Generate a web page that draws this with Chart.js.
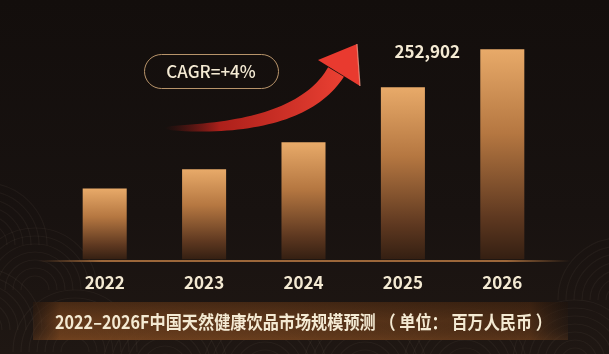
<!DOCTYPE html>
<html>
<head>
<meta charset="utf-8">
<script src="https://cdn.jsdelivr.net/npm/chart.js@4.4.0/dist/chart.umd.min.js"></script>
<style>
html, body { margin: 0; padding: 0; background: #17110e; }
canvas { display: block; }
</style>
</head>
<body>
<canvas id="market_chart" width="609" height="354"></canvas>
<script>
// data (bar heights, 2026 labelled)
const years = ['2022', '2023', '2024', '2025', '2026'];
const marketSize = [85500, 108400, 140900, 207100, 252902];
const valueLabel = '252,902';
const cagrText = 'CAGR=+4%';
const chartTitle = '2022–2026F中国天然健康饮品市场规模预测 （ 单位： 百万人民币 ）';

const FONT = '"Noto Sans CJK SC", "Noto Sans", sans-serif';
const CREAM = '#f4ead3';

// background, wave pattern, title band and base line
const backdrop = {
	id: 'backdrop',
	beforeDraw(chart) {
		const {ctx, width, height} = chart;
		ctx.save();
		const bg = ctx.createLinearGradient(0, 0, 0, height);
		bg.addColorStop(0, '#130e0c');
		bg.addColorStop(0.6, '#181210');
		bg.addColorStop(1, '#1f1713');
		ctx.fillStyle = bg;
		ctx.fillRect(0, 0, width, height);

		ctx.strokeStyle = 'rgba(255, 230, 200, 0.045)';
		ctx.lineWidth = 1.2;
		const waves = [[-15, 245], [35, 290], [-20, 330], [75, 352], [165, 368], [265, 372], [365, 372], [465, 370], [575, 362], [620, 300]];
		waves.forEach(([cx, cy]) => {
			for (let r = 14; r <= 62; r += 8) {
				ctx.beginPath();
				ctx.arc(cx, cy, r, Math.PI, 2 * Math.PI);
				ctx.stroke();
			}
		});

		// title band
		const band = ctx.createLinearGradient(33, 0, 568, 0);
		band.addColorStop(0, 'rgba(90, 50, 22, 0.25)');
		band.addColorStop(0.05, 'rgba(108, 62, 28, 0.9)');
		band.addColorStop(0.45, 'rgba(100, 58, 27, 0.9)');
		band.addColorStop(0.93, 'rgba(82, 47, 22, 0.85)');
		band.addColorStop(1, 'rgba(60, 35, 18, 0.2)');
		ctx.fillStyle = band;
		ctx.fillRect(33, 302, 535, 38);
		const shade = ctx.createLinearGradient(0, 302, 0, 340);
		shade.addColorStop(0, 'rgba(20, 12, 8, 0.35)');
		shade.addColorStop(0.5, 'rgba(20, 12, 8, 0)');
		shade.addColorStop(1, 'rgba(160, 95, 45, 0.18)');
		ctx.fillStyle = shade;
		ctx.fillRect(33, 302, 535, 38);
		ctx.restore();
	},
	afterDatasetsDraw(chart) {
		const {ctx, chartArea} = chart;
		const y = chartArea.bottom + 1.5;
		ctx.save();
		const line = ctx.createLinearGradient(38, 0, 570, 0);
		line.addColorStop(0, 'rgba(170, 110, 60, 0)');
		line.addColorStop(0.12, 'rgba(170, 112, 62, 0.9)');
		line.addColorStop(0.88, 'rgba(170, 112, 62, 0.9)');
		line.addColorStop(1, 'rgba(170, 110, 60, 0)');
		ctx.strokeStyle = line;
		ctx.lineWidth = 2;
		ctx.beginPath();
		ctx.moveTo(38, y);
		ctx.lineTo(570, y);
		ctx.stroke();
		ctx.restore();
	}
};

// CAGR pill, red growth arrow and the value label
const notes = {
	id: 'notes',
	afterDraw(chart) {
		const {ctx} = chart;
		ctx.save();

		// pill
		ctx.strokeStyle = '#b8946a';
		ctx.lineWidth = 1;
		ctx.beginPath();
		ctx.roundRect(144.5, 54.5, 134, 34, 17);
		ctx.stroke();
		ctx.fillStyle = CREAM;
		ctx.font = '500 17px ' + FONT;
		ctx.textAlign = 'center';
		ctx.textBaseline = 'middle';
		ctx.fillText(cagrText, 211, 72);

		// arrow shaft along a quadratic curve
		const p0 = [165, 128], p1 = [300, 131], p2 = [336, 72];
		const upper = [], lower = [];
		const n = 40;
		for (let i = 0; i <= n; i++) {
			const t = i / n;
			const x = (1 - t) * (1 - t) * p0[0] + 2 * (1 - t) * t * p1[0] + t * t * p2[0];
			const yy = (1 - t) * (1 - t) * p0[1] + 2 * (1 - t) * t * p1[1] + t * t * p2[1];
			const dx = 2 * (1 - t) * (p1[0] - p0[0]) + 2 * t * (p2[0] - p1[0]);
			const dy = 2 * (1 - t) * (p1[1] - p0[1]) + 2 * t * (p2[1] - p1[1]);
			const len = Math.hypot(dx, dy);
			const w = (1.5 + 17 * Math.sqrt(t)) / 2;
			upper.push([x + dy / len * w, yy - dx / len * w]);
			lower.push([x - dy / len * w, yy + dx / len * w]);
		}
		const grad = ctx.createLinearGradient(165, 0, 350, 0);
		grad.addColorStop(0, 'rgba(140, 22, 18, 0)');
		grad.addColorStop(0.3, 'rgba(190, 34, 28, 0.9)');
		grad.addColorStop(1, '#ee4234');
		ctx.fillStyle = grad;
		ctx.beginPath();
		ctx.moveTo(upper[0][0], upper[0][1]);
		upper.forEach(p => ctx.lineTo(p[0], p[1]));
		for (let i = lower.length - 1; i >= 0; i--) ctx.lineTo(lower[i][0], lower[i][1]);
		ctx.closePath();
		ctx.fill();

		// arrow head
		ctx.fillStyle = '#e93a2f';
		ctx.beginPath();
		ctx.moveTo(357, 44);
		ctx.lineTo(318, 60);
		ctx.lineTo(360, 86);
		ctx.closePath();
		ctx.fill();
		ctx.strokeStyle = 'rgba(255, 170, 150, 0.7)';
		ctx.lineWidth = 1.2;
		ctx.beginPath();
		ctx.moveTo(357, 44);
		ctx.lineTo(360, 86);
		ctx.stroke();

		// value label beside the 2026 bar
		const last = chart.getDatasetMeta(0).data[years.length - 1];
		ctx.fillStyle = CREAM;
		ctx.font = 'bold 17px ' + FONT;
		ctx.fillText(valueLabel, last.x - 75, last.y + 2);
		ctx.restore();
	}
};

new Chart(document.getElementById('market_chart'), {
	type: 'bar',
	data: {
		labels: years,
		datasets: [{
			label: '市场规模',
			data: marketSize,
			barPercentage: 0.443,
			categoryPercentage: 1,
			backgroundColor: function (c) {
				const chart = c.chart;
				if (!chart.chartArea || c.type !== 'data') return '#c8894f';
				const y = chart.scales.y;
				const top = y.getPixelForValue(c.raw);
				const base = y.getPixelForValue(0);
				const g = chart.ctx.createLinearGradient(0, top, 0, base);
				g.addColorStop(0, '#e8aa69');
				g.addColorStop(0.4, '#b57741');
				g.addColorStop(0.8, '#5e3820');
				g.addColorStop(1, '#341f12');
				return g;
			}
		}]
	},
	options: {
		responsive: false,
		animation: false,
		devicePixelRatio: 1,
		layout: {padding: {top: 10, left: 55, right: 57, bottom: 0}},
		scales: {
			x: {
				grid: {display: false, drawTicks: false},
				border: {display: false},
				ticks: {color: CREAM, padding: 13, font: {family: FONT, size: 17, weight: 'bold'}}
			},
			y: {display: false, min: 0, max: 300000}
		},
		plugins: {
			legend: {display: false},
			tooltip: {enabled: false},
			title: {
				display: true,
				position: 'bottom',
				text: chartTitle,
				color: CREAM,
				font: {family: FONT, size: 18.4, weight: 'bold'},
				padding: {top: 5, bottom: 21}
			}
		}
	},
	plugins: [backdrop, notes]
});
</script>
</body>
</html>
